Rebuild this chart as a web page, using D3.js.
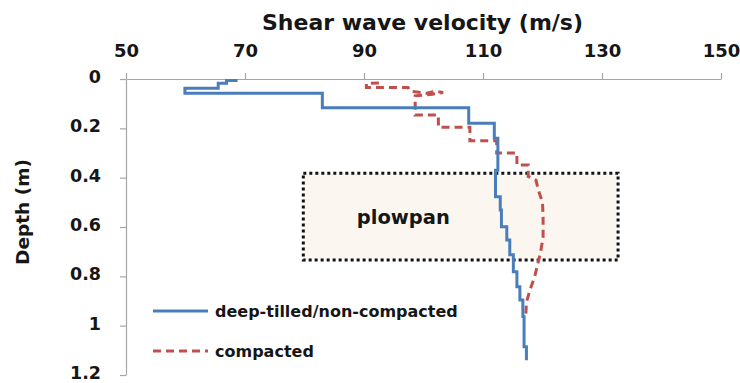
<!DOCTYPE html>
<html>
  <head>
    <meta charset="utf-8">
    <script src="https://d3js.org/d3.v7.min.js"></script>
    <style>
      body { margin: 0; background: #fff; }
      text { font-family: "DejaVu Sans", sans-serif; font-weight: bold; fill: #161616; }
    </style>
  </head>
  <body>
    <div id="my_dataviz"></div>
    <script>
    // axis ticks
    var velTicks = [50, 70, 90, 110, 130, 150];
    var depthTicks = [0, 0.2, 0.4, 0.6, 0.8, 1, 1.2];

    // deep-tilled / non-compacted: layer top depth (m) and velocity (m/s)
    var blueDepth = [0, 0.006, 0.017, 0.038, 0.058, 0.117, 0.179, 0.24, 0.37, 0.477, 0.531, 0.599, 0.653, 0.713, 0.781, 0.842, 0.896, 0.963, 1.085, 1.14];
    var blueVel   = [68.5, 66.9, 65.5, 59.9, 83.0, 107.6, 111.9, 112.5, 112.1, 112.9, 113.1, 114.0, 114.5, 115.1, 115.7, 116.2, 116.7, 116.9, 117.3, 117.3];

    // compacted: traced profile
    var redDepth = [0.016, 0.018, 0.034, 0.034, 0.05, 0.058, 0.05, 0.055, 0.062, 0.068, 0.146, 0.146, 0.196, 0.196, 0.25, 0.25, 0.30, 0.30, 0.349, 0.349, 0.395, 0.41, 0.45, 0.50, 0.56, 0.64, 0.70, 0.74, 0.80, 0.855, 0.905, 0.955];
    var redVel   = [92.5, 90.4, 90.4, 97.4, 97.8, 100.5, 102.0, 103.3, 101.5, 98.6, 98.6, 102.5, 102.5, 107.8, 107.8, 112.3, 112.3, 115.7, 115.7, 117.6, 117.6, 118.9, 119.3, 120.0, 120.1, 120.1, 119.7, 119.3, 118.7, 117.9, 117.3, 117.2];

    // plowpan zone
    var plowpanDepth = [0.382, 0.734];
    var plowpanVel = [79.8, 132.7];

    var seriesNames = ["deep-tilled/non-compacted", "compacted"];

    var width = 740, height = 383;
    var svg = d3.select("#my_dataviz")
      .append("svg")
      .attr("width", width)
      .attr("height", height);

    var x = d3.scaleLinear().domain([50, 150]).range([126, 721]);
    var y = d3.scaleLinear().domain([0, 1.2]).range([79, 375]);

    // plowpan box
    svg.append("rect")
      .attr("x", x(plowpanVel[0]))
      .attr("y", y(plowpanDepth[0]))
      .attr("width", x(plowpanVel[1]) - x(plowpanVel[0]))
      .attr("height", y(plowpanDepth[1]) - y(plowpanDepth[0]))
      .attr("fill", "#fcf6f1")
      .attr("stroke", "#111")
      .attr("stroke-width", 3)
      .attr("stroke-dasharray", "3,3");

    svg.append("text")
      .attr("x", x(plowpanVel[0]) + 100)
      .attr("y", y(plowpanDepth[0]) + 51)
      .attr("text-anchor", "middle")
      .style("font-size", "19.5px")
      .text("plowpan");

    // axes
    var xAxis = svg.append("g")
      .attr("transform", "translate(0," + y(0) + ")")
      .call(d3.axisTop(x).tickValues(velTicks).tickSize(6).tickSizeOuter(0).tickPadding(16));
    var yAxis = svg.append("g")
      .attr("transform", "translate(" + x(50) + ",0)")
      .call(d3.axisLeft(y).tickValues(depthTicks).tickSize(6).tickSizeOuter(0).tickPadding(19)
        .tickFormat(function (d) { return d3.format("")(d); }));

    [xAxis, yAxis].forEach(function (g) {
      g.selectAll("path, line").attr("stroke", "#a6a6a6").attr("stroke-width", 1.2);
      g.selectAll("text").style("font-size", "17.5px").style("font-family", "DejaVu Sans")
        .style("font-weight", "bold").attr("fill", "#161616");
    });
    xAxis.selectAll("text").style("font-size", "18px");
    yAxis.selectAll("text").attr("dy", "0.2em");

    // titles
    svg.append("text")
      .attr("x", 422.5)
      .attr("y", 30)
      .attr("text-anchor", "middle")
      .style("font-size", "22px")
      .text("Shear wave velocity (m/s)");

    svg.append("text")
      .attr("transform", "translate(29," + ((y(0) + y(1.2)) / 2 - 15) + ") rotate(-90)")
      .attr("text-anchor", "middle")
      .style("font-size", "18.5px")
      .text("Depth (m)");

    // profiles
    var blue = blueDepth.map(function (d, i) { return [blueVel[i], d]; });
    var red = redDepth.map(function (d, i) { return [redVel[i], d]; });

    svg.append("path")
      .datum(red)
      .attr("fill", "none")
      .attr("stroke", "#c0504d")
      .attr("stroke-width", 3)
      .attr("stroke-dasharray", "8,5")
      .attr("d", d3.line()
        .x(function (d) { return x(d[0]); })
        .y(function (d) { return y(d[1]); }));

    svg.append("path")
      .datum(blue)
      .attr("fill", "none")
      .attr("stroke", "#4a7ebb")
      .attr("stroke-width", 3)
      .attr("d", d3.line()
        .curve(d3.curveStepBefore)
        .x(function (d) { return x(d[0]); })
        .y(function (d) { return y(d[1]); }));

    // legend
    var legend = svg.append("g");
    var legY = [311, 351];
    seriesNames.forEach(function (name, i) {
      legend.append("line")
        .attr("x1", 153).attr("x2", 208)
        .attr("y1", legY[i]).attr("y2", legY[i])
        .attr("stroke", i === 0 ? "#4a7ebb" : "#c0504d")
        .attr("stroke-width", 3)
        .attr("stroke-dasharray", i === 0 ? null : "8,5");
      legend.append("text")
        .attr("x", 215)
        .attr("y", legY[i] + 6)
        .style("font-size", "16px")
        .text(name);
    });
    </script>
  </body>
</html>
